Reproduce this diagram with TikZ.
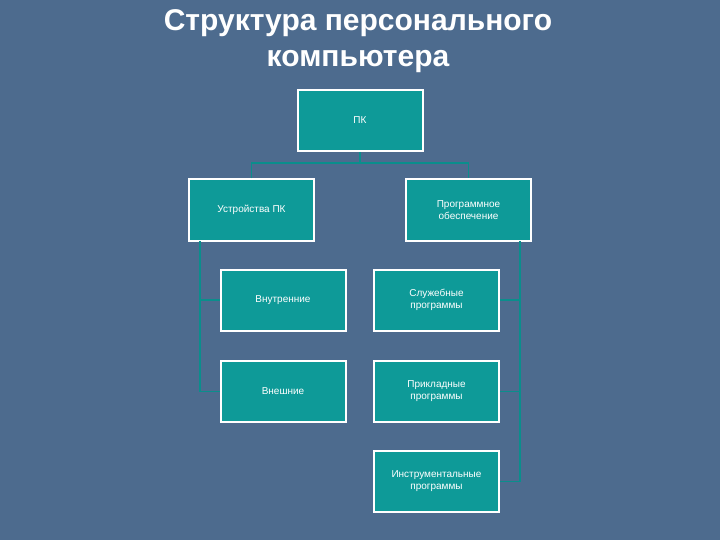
\documentclass[tikz,border=0pt]{standalone}
\usepackage{fontspec}
\setmainfont{Liberation Sans}
\definecolor{bg}{HTML}{4D6B8E}
\definecolor{tealbox}{HTML}{0E9A98}
\definecolor{tline}{HTML}{0A8E8C}
\begin{document}
\begin{tikzpicture}[x=1pt,y=-1pt,
  box/.style={draw=white,line width=2pt,fill=tealbox,minimum width=125pt,minimum height=61pt,
    text=white,font=\fontsize{10}{12}\selectfont,align=center,inner sep=1pt},
  conn/.style={draw=tline,line width=1.5pt}]
\fill[bg] (0,0) rectangle (720,540);
\useasboundingbox (0,0) rectangle (720,540);
\node[font=\bfseries\fontsize{30}{36}\selectfont,text=white,align=center] (title) at (358,41) {Структура персонального\\компьютера};
\node[box] (pk) at (360,120.5) {ПК};
\node[box] (dev) at (251.5,210) {Устройства ПК};
\node[box] (soft) at (468.5,210) {Программное\\обеспечение};
\node[box] (int) at (283,300) {Внутренние};
\node[box] (sys) at (436.5,300) {Служебные\\программы};
\node[box] (ext) at (283,391.5) {Внешние};
\node[box] (app) at (436.5,391.5) {Прикладные\\программы};
\node[box] (tool) at (436.5,481.5) {Инструментальные\\программы};
\coordinate (j) at (360,163);
\coordinate (jl) at (251.5,163);
\coordinate (jr) at (468.5,163);
\coordinate (lt) at (200,241);
\coordinate (l1) at (200,300);
\coordinate (l2) at (200,391.5);
\coordinate (rt) at (520,241);
\coordinate (r1) at (520,300);
\coordinate (r2) at (520,391.5);
\coordinate (r3) at (520,481.5);
\draw[conn] (pk.south) -- (j);
\draw[conn] (dev.north) -- (jl) -- (jr) -- (soft.north);
\draw[conn] (lt) -- (l2);
\draw[conn] (l1) -- (int.west);
\draw[conn] (l2) -- (ext.west);
\draw[conn] (rt) -- (r3);
\draw[conn] (r1) -- (sys.east);
\draw[conn] (r2) -- (app.east);
\draw[conn] (r3) -- (tool.east);
\end{tikzpicture}
\end{document}
